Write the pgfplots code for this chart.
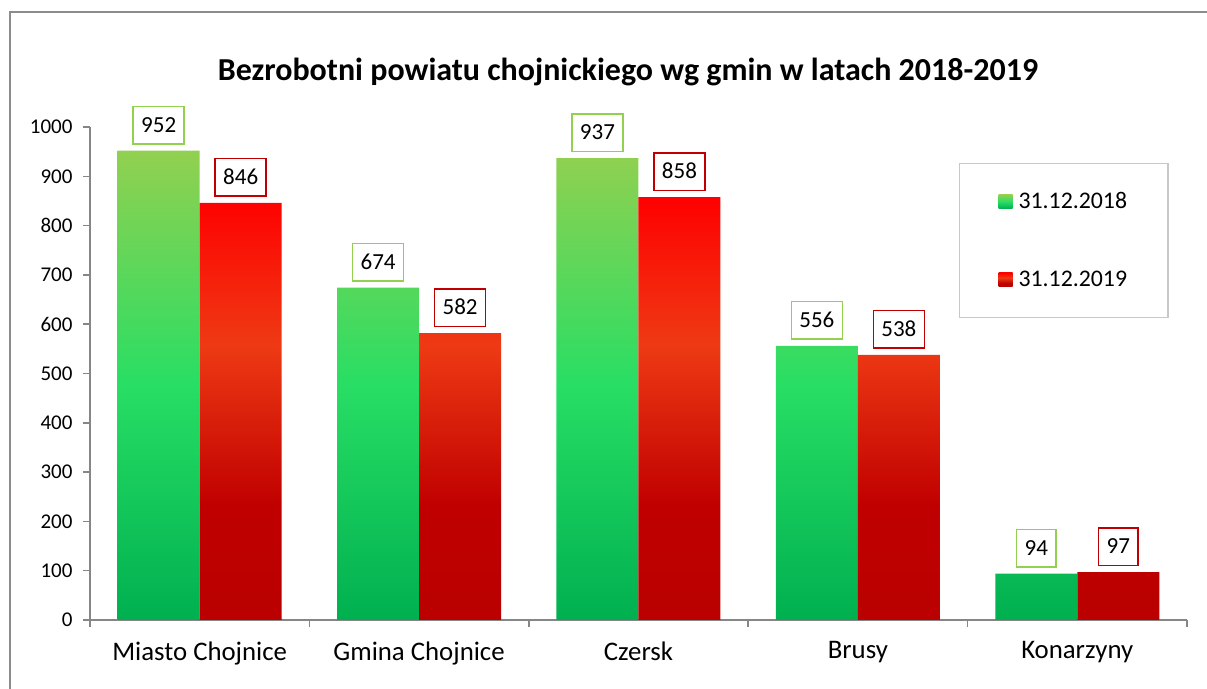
\documentclass[border=0pt]{standalone}
\usepackage{pgfplots}
\pgfplotsset{compat=1.18}
\usepackage{fontspec}
\setmainfont{Carlito}
\definecolor{gtop}{HTML}{92D050}
\definecolor{gmid}{HTML}{28DE64}
\definecolor{gbot}{HTML}{00B050}
\definecolor{rtop}{HTML}{FF0000}
\definecolor{rmid}{HTML}{EE3A14}
\definecolor{rdark}{HTML}{C00000}
\definecolor{rbot}{HTML}{BA0000}
\definecolor{axgray}{HTML}{868686}
\definecolor{framegray}{HTML}{8C8C8C}
\definecolor{leggray}{HTML}{C8C8C8}
\pgfdeclareverticalshading{greenbar}{100bp}{color(0bp)=(gbot); color(25bp)=(gbot); color(50bp)=(gmid); color(75bp)=(gtop); color(100bp)=(gtop)}
\pgfdeclareverticalshading{redbar}{100bp}{color(0bp)=(rbot); color(25bp)=(rbot); color(38.5bp)=(rdark); color(57.5bp)=(rmid); color(75bp)=(rtop); color(100bp)=(rtop)}
\begin{document}
\begin{tikzpicture}[x=1pt,y=1pt]
\useasboundingbox (0,0) rectangle (1207,688);
\draw[framegray, line width=1.5pt] (10,-5) -- (10,676) -- (1212,676);
\node[font=\bfseries\fontsize{32}{37}\selectfont] at (628,616) {Bezrobotni powiatu chojnickiego wg gmin w latach 2018-2019};
\begin{axis}[
  at={(90pt,68pt)}, anchor=south west,
  scale only axis, width=1097pt, height=493pt,
  xmin=-0.5, xmax=4.5, ymin=0, ymax=1000,
  ytick={0,100,...,1000},
  xtick={0,...,4},
  xticklabels={Miasto Chojnice, Gmina Chojnice, Czersk, Brusy, Konarzyny},
  minor xtick={-0.5,0.5,1.5,2.5,3.5,4.5},
  axis x line*=bottom, axis y line*=left,
  axis line style={draw=axgray, line width=1.5pt},
  tick style={draw=axgray, line width=1.5pt},
  major x tick style={draw=none},
  tick align=outside, major tick length=7pt, minor tick length=7pt,
  yticklabel style={font=\fontsize{21}{25}\selectfont, xshift=-7pt},
  xticklabel style={font=\fontsize{26.8}{31}\selectfont, yshift=-11pt},
  /pgf/number format/assume math mode=true,
  /pgf/number format/1000 sep={},
  ybar=0pt, bar width=82pt,
  nodes near coords,
  every node near coord/.append style={font=\fontsize{23}{27}\selectfont, fill=white, line width=1.5pt, inner xsep=8pt, inner ysep=11.5pt, text height=14.5pt, text depth=0pt, anchor=south, yshift=6pt},
  legend cell align=left,
  legend style={at={(axis description cs:0.792,0.927)}, anchor=north west, draw=leggray, line width=1.5pt, font=\fontsize{23.8}{28}\selectfont, inner xsep=39pt, inner ysep=27pt, /tikz/row sep=57pt},
]
\addplot[draw=none, shading=greenbar, every node near coord/.append style={draw=gtop},
  legend image code/.code={\shade[shading=greenbar] (0pt,-7pt) rectangle (14pt,7pt);}]
  coordinates {(0,952) (1,674) (2,937) (3,556) (4,94)};
\addplot[draw=none, shading=redbar, every node near coord/.append style={draw=rdark},
  legend image code/.code={\shade[shading=redbar] (0pt,-7pt) rectangle (14pt,7pt);}]
  coordinates {(0,846) (1,582) (2,858) (3,538) (4,97)};
\legend{\hspace{4pt}31.12.2018, \hspace{4pt}31.12.2019}
\end{axis}
\end{tikzpicture}
\end{document}
